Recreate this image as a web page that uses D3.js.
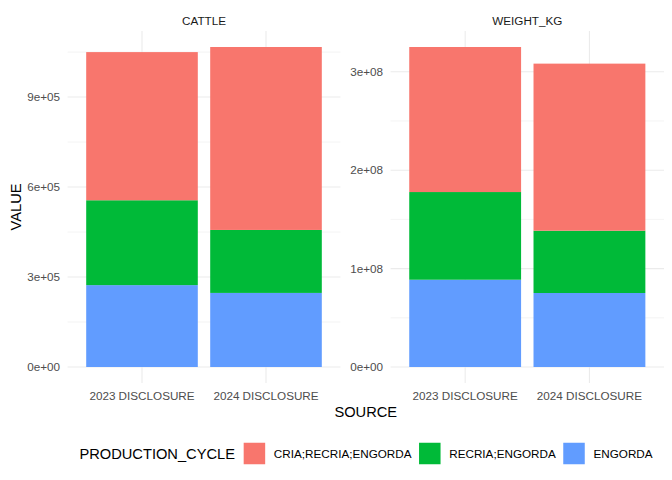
<!DOCTYPE html>
<html>
<head>
<meta charset="utf-8">
<script src="https://cdn.jsdelivr.net/npm/d3@7"></script>
<style>
  body { margin: 0; background: #fff; }
  text { font-family: "Liberation Sans", Arial, sans-serif; }
</style>
</head>
<body>
<svg id="chart" width="672" height="480"></svg>
<script>
// data
const sources = ["2023 DISCLOSURE", "2024 DISCLOSURE"]
const cycles = ["CRIA;RECRIA;ENGORDA", "RECRIA;ENGORDA", "ENGORDA"]
const cycleColors = ["#F8766D", "#00BA38", "#619CFF"]

const cattleCria = [494000, 610000]
const cattleRecria = [283000, 210000]
const cattleEngorda = [273000, 247000]

const weightCria = [147400000, 169800000]
const weightRecria = [89100000, 63300000]
const weightEngorda = [88700000, 75200000]

const cattleTicks = [0, 300000, 600000, 900000]
const weightTicks = [0, 100000000, 200000000, 300000000]

const svg = d3.select("#chart")
const panelTop = 31, panelBottom = 383

const sci = v => {
  if (v === 0) return "0e+00"
  const e = Math.floor(Math.log10(v))
  const m = v / Math.pow(10, e)
  return `${+m.toFixed(2)}e+${String(e).padStart(2, "0")}`
}

const makeRows = (cria, recria, engorda) => sources.map((s, i) => ({
  source: s,
  "CRIA;RECRIA;ENGORDA": cria[i],
  "RECRIA;ENGORDA": recria[i],
  "ENGORDA": engorda[i]
}))

const panels = [
  {title: "CATTLE", x0: 67.6, x1: 340.4, rows: makeRows(cattleCria, cattleRecria, cattleEngorda), ticks: cattleTicks, labelX: 60},
  {title: "WEIGHT_KG", x0: 390.6, x1: 664, rows: makeRows(weightCria, weightRecria, weightEngorda), ticks: weightTicks, labelX: 383}
]

// ggplot stacks first level on top, so stack bottom-up in reverse
const stackKeys = [...cycles].reverse()
const color = d3.scaleOrdinal().domain(cycles).range(cycleColors)

panels.forEach(p => {
  const series = d3.stack().keys(stackKeys)(p.rows)
  const maxV = d3.max(series[series.length - 1], d => d[1])
  const y = d3.scaleLinear().domain([-0.05 * maxV, 1.05 * maxV]).range([panelBottom, panelTop])
  const x = d3.scaleBand().domain(sources).range([p.x0, p.x1]).paddingInner(0.1).paddingOuter(0.15)

  const g = svg.append("g")

  // minor grid
  const step = p.ticks[1] - p.ticks[0]
  const minor = d3.range(p.ticks[0] - step / 2, y.domain()[1], step).filter(v => v >= y.domain()[0])
  g.selectAll(".minor").data(minor).enter().append("line")
    .attr("x1", p.x0).attr("x2", p.x1)
    .attr("y1", d => y(d)).attr("y2", d => y(d))
    .attr("stroke", "#EBEBEB").attr("stroke-width", 0.53)

  // major grid
  g.selectAll(".major").data(p.ticks).enter().append("line")
    .attr("x1", p.x0).attr("x2", p.x1)
    .attr("y1", d => y(d)).attr("y2", d => y(d))
    .attr("stroke", "#EBEBEB").attr("stroke-width", 1.07)

  g.selectAll(".vgrid").data(sources).enter().append("line")
    .attr("x1", d => x(d) + x.bandwidth() / 2).attr("x2", d => x(d) + x.bandwidth() / 2)
    .attr("y1", panelTop).attr("y2", panelBottom)
    .attr("stroke", "#EBEBEB").attr("stroke-width", 1.07)

  // bars
  g.selectAll(".layer").data(series).enter().append("g")
    .attr("fill", d => color(d.key))
    .selectAll("rect").data(d => d).enter().append("rect")
    .attr("x", d => x(d.data.source))
    .attr("width", x.bandwidth())
    .attr("y", d => y(d[1]))
    .attr("height", d => y(d[0]) - y(d[1]))

  // y tick labels
  g.selectAll(".ylab").data(p.ticks).enter().append("text")
    .attr("x", p.labelX).attr("y", d => y(d))
    .attr("dy", "0.35em")
    .attr("text-anchor", "end")
    .attr("font-size", "11.7px")
    .attr("fill", "#4D4D4D")
    .text(d => sci(d))

  // x tick labels
  g.selectAll(".xlab").data(sources).enter().append("text")
    .attr("x", d => x(d) + x.bandwidth() / 2).attr("y", 400)
    .attr("text-anchor", "middle")
    .attr("font-size", "11.7px")
    .attr("fill", "#4D4D4D")
    .text(d => d)

  // strip
  g.append("text")
    .attr("x", (p.x0 + p.x1) / 2).attr("y", 25)
    .attr("text-anchor", "middle")
    .attr("font-size", "11.7px")
    .attr("fill", "#1A1A1A")
    .text(p.title)
})

// axis titles
svg.append("text")
  .attr("x", (67.6 + 664) / 2).attr("y", 417)
  .attr("text-anchor", "middle")
  .attr("font-size", "14.67px")
  .text("SOURCE")

svg.append("text")
  .attr("transform", `translate(20.5, ${(panelTop + panelBottom) / 2}) rotate(-90)`)
  .attr("text-anchor", "middle")
  .attr("font-size", "14.67px")
  .text("VALUE")

// legend
const legend = svg.append("g")
const keySize = 21.5
let cx = 0
const lt = legend.append("text")
  .attr("x", 0).attr("y", 0).attr("dy", "0.35em")
  .attr("font-size", "14.67px")
  .text("PRODUCTION_CYCLE")
cx = lt.node().getComputedTextLength() + 8.7
cycles.forEach((c, i) => {
  legend.append("rect")
    .attr("x", cx).attr("y", -keySize / 2)
    .attr("width", keySize).attr("height", keySize)
    .attr("fill", color(c))
  cx += keySize + 8.7
  const t = legend.append("text")
    .attr("x", cx).attr("y", 0).attr("dy", "0.35em")
    .attr("font-size", "11.7px")
    .text(c)
  cx += t.node().getComputedTextLength()
  if (i < cycles.length - 1) cx += 7.5
})
legend.attr("transform", `translate(${366 - cx / 2}, 453.5)`)
</script>
</body>
</html>
